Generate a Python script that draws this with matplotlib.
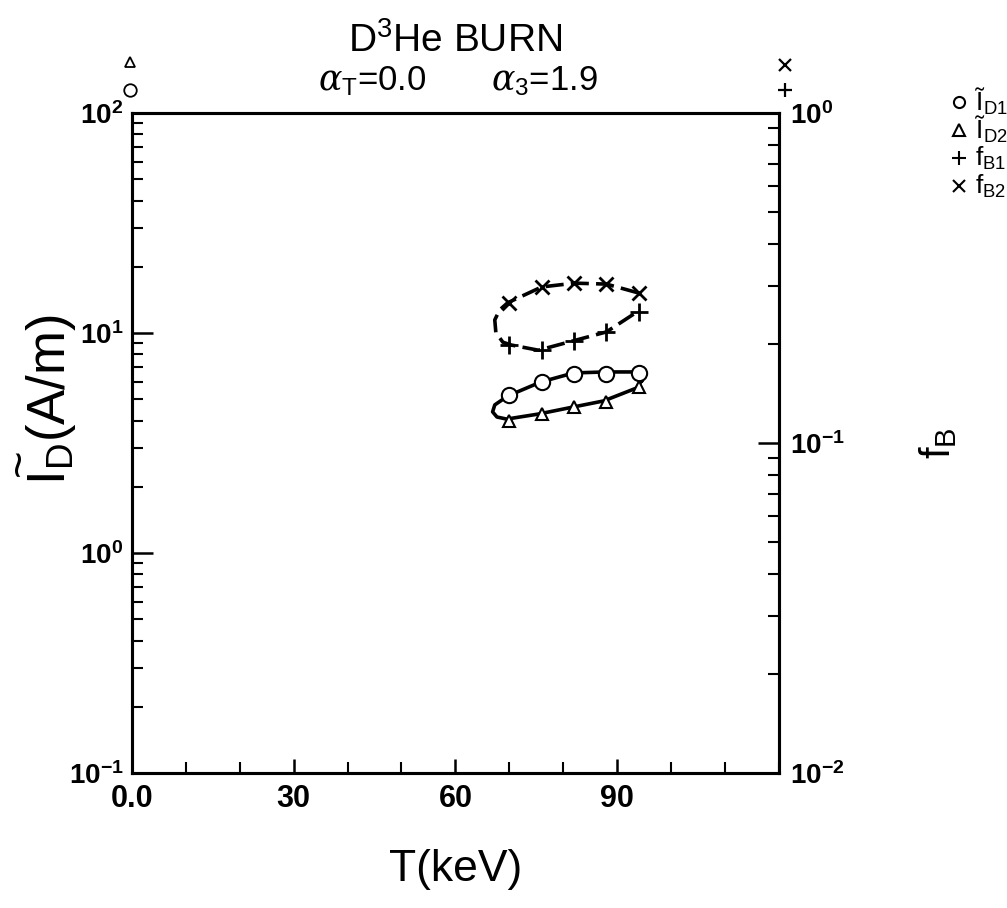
import matplotlib
matplotlib.use("Agg")
import matplotlib.pyplot as plt
from matplotlib.ticker import MultipleLocator, LogLocator, FixedLocator, FixedFormatter
from matplotlib.lines import Line2D

plt.rcParams['font.family'] = ['Liberation Sans Narrow', 'Liberation Sans', 'DejaVu Sans']
plt.rcParams['mathtext.fontset'] = 'custom'
plt.rcParams['mathtext.rm'] = 'Liberation Sans'
plt.rcParams['mathtext.bf'] = 'Liberation Sans:bold'
plt.rcParams['mathtext.it'] = 'DejaVu Serif:italic'

# measured points
T = [70, 76, 82, 88, 94]
I_D1 = [5.2, 6.0, 6.5, 6.5, 6.6]
I_D2 = [4.0, 4.3, 4.6, 4.85, 5.7]
f_B1 = [0.198, 0.191, 0.204, 0.217, 0.249]
f_B2 = [0.266, 0.297, 0.305, 0.303, 0.285]

# traced curves (closed loop for I_D, open loop for f_B)
T_I_curve = [94.5, 93.8, 87.8, 81.9, 75.8, 69.7, 67.3, 66.9, 67.7, 69.5, 75.4, 81.9, 87.5, 93.6, 94.5]
I_curve = [6.05, 6.65, 6.65, 6.58, 5.98, 5.17, 4.71, 4.38, 4.15, 4.06, 4.28, 4.61, 4.91, 5.62, 6.05]
T_f_curve = [93.9, 88.0, 82.1, 76.0, 69.7, 68.2, 67.3, 67.5, 68.8, 70.4, 75.4, 81.9, 88.0, 93.6]
f_curve = [0.285, 0.303, 0.305, 0.297, 0.266, 0.253, 0.236, 0.216, 0.202, 0.198, 0.191, 0.204, 0.217, 0.249]

x_ticks = [0, 30, 60, 90]
x_ticklabels = ['0.0', '30', '60', '90']
left_ticks = [0.1, 1, 10, 100]
left_ticklabels = [r'$\mathbf{10^{-1}}$', r'$\mathbf{10^{0}}$', r'$\mathbf{10^{1}}$', r'$\mathbf{10^{2}}$']
right_ticks = [0.01, 0.1, 1]
right_ticklabels = [r'$\mathbf{10^{-2}}$', r'$\mathbf{10^{-1}}$', r'$\mathbf{10^{0}}$']

sans = ['Liberation Sans', 'DejaVu Sans']

fig = plt.figure(figsize=(10.07, 9.08), dpi=100)
ax = fig.add_axes([0.131, 0.1487, 0.6425, 0.7269])
ax2 = ax.twinx()

ax.set_xlim(0, 120)
ax.set_yscale('log')
ax.set_ylim(0.1, 100)
ax2.set_yscale('log')
ax2.set_ylim(0.01, 1)

# curves
ax.plot(T_I_curve, I_curve, color='black', lw=2.6, zorder=2)
ax2.plot(T_f_curve, f_curve, color='black', lw=2.6, dashes=(5, 2), zorder=2)

# markers
ax.plot(T, I_D1, 'o', ms=11, mfc='white', mec='black', mew=1.5, zorder=3)
ax.plot(T, I_D2, '^', ms=8, mfc='white', mec='black', mew=1.5, zorder=3)
ax2.plot(T, f_B1, '+', ms=13, mec='black', mew=2, zorder=3)
ax2.plot(T, f_B2, 'x', ms=10, mec='black', mew=2, zorder=3)

# spines and ticks
for a in (ax, ax2):
    for s in a.spines.values():
        s.set_linewidth(2.2)

ax.xaxis.set_major_locator(FixedLocator(x_ticks))
ax.xaxis.set_major_formatter(FixedFormatter(x_ticklabels))
ax.xaxis.set_minor_locator(MultipleLocator(10))
ax.tick_params(axis='x', which='major', direction='in', length=10, width=1.8,
               labelsize=22, pad=8, top=False)
ax.tick_params(axis='x', which='minor', direction='in', length=8, width=1.5, top=False)
for lab in ax.get_xticklabels():
    lab.set_fontweight('bold')

ax.yaxis.set_major_locator(FixedLocator(left_ticks))
ax.yaxis.set_major_formatter(FixedFormatter(left_ticklabels))
ax.yaxis.set_minor_locator(LogLocator(base=10, subs=range(2, 10)))
ax.tick_params(axis='y', which='major', direction='in', length=15, width=1.8,
               labelsize=20, pad=6, right=False)
ax.tick_params(axis='y', which='minor', direction='in', length=8, width=1.5, right=False)

ax2.yaxis.set_major_locator(FixedLocator(right_ticks))
ax2.yaxis.set_major_formatter(FixedFormatter(right_ticklabels))
ax2.yaxis.set_minor_locator(LogLocator(base=10, subs=range(2, 10)))
ax2.tick_params(axis='y', which='major', direction='in', length=15, width=1.8,
                labelsize=20, pad=8)
ax2.tick_params(axis='y', which='minor', direction='in', length=8, width=1.5)

# axis labels
ax.set_xlabel('T(keV)', fontsize=32, family=sans)
ax.xaxis.set_label_coords(0.5, -0.115)
ax.set_ylabel(r'I$_{\mathrm{D}}$(A/m)', fontsize=38, family=sans)
ax.yaxis.set_label_coords(-0.083, 0.565)
# wide tilde over the I of the y label
fig.text(0.021, 0.491, '~', fontsize=34, rotation=90, ha='center', va='center', family=sans)
ax2.set_ylabel(r'f$_{\mathrm{B}}$', fontsize=30, family=sans, rotation=90)
ax2.yaxis.set_label_coords(1.214, 0.5)

# title lines
fig.text(0.452, 0.955, r'D$^{3}$He BURN', fontsize=28, ha='center', va='center', family=sans)
fig.text(0.37, 0.911, r'$\alpha_{\mathrm{T}}$=0.0', fontsize=25, ha='center', va='center')
fig.text(0.541, 0.911, r'$\alpha_{3}$=1.9', fontsize=25, ha='center', va='center')

# symbol keys above the frame
fig.add_artist(Line2D([0.129], [0.932], marker='^', ms=7, mfc='white', mec='black', mew=1.3))
fig.add_artist(Line2D([0.129], [0.901], marker='o', ms=9, mfc='white', mec='black', mew=1.3))
fig.add_artist(Line2D([0.78], [0.928], marker='x', ms=8, mec='black', mew=1.6))
fig.add_artist(Line2D([0.78], [0.901], marker='+', ms=10, mec='black', mew=1.6))

# legend at right
keys = [('o', 'Ĩ$_{\\mathrm{D1}}$', 0.888),
        ('^', 'Ĩ$_{\\mathrm{D2}}$', 0.857),
        ('+', 'f$_{\\mathrm{B1}}$', 0.826),
        ('x', 'f$_{\\mathrm{B2}}$', 0.795)]
for m, lab, y in keys:
    fig.add_artist(Line2D([0.952], [y], marker=m, ms=8 if m != '+' else 10,
                          mfc='white', mec='black', mew=1.5))
    fig.text(0.968, y, lab, fontsize=19, va='center', ha='left', family=sans)

fig.savefig('out.png', dpi=100)
